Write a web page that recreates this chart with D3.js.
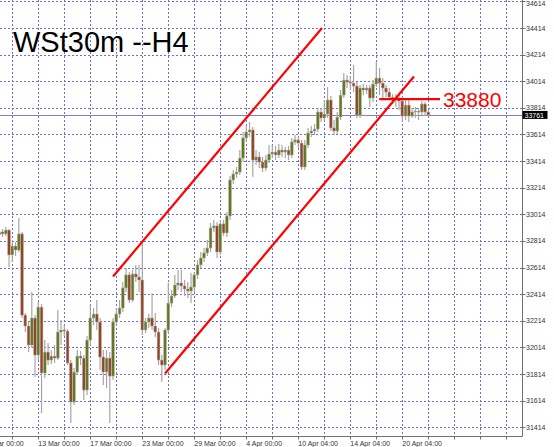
<!DOCTYPE html>
<html><head><meta charset="utf-8">
<script src="https://cdn.jsdelivr.net/npm/d3@7"></script>
<style>html,body{margin:0;padding:0;background:#fff;overflow:hidden}svg{display:block}</style>
</head><body>
<svg id="chart" width="554" height="447"></svg>
<script>
const opens = [32859,32882,32867,32896,32709,32776,32746,32867,32257,32175,32032,32235,31957,32317,31822,31979,31919,31949,31934,32130,32145,32137,31897,31604,31829,31949,31934,31694,32069,32235,32265,32205,31942,31829,31934,31799,32205,32265,32310,32461,32559,32370,32566,32543,32521,32145,32205,32235,32175,32130,31919,31882,32145,32347,32401,32483,32498,32476,32453,32438,32468,32559,32634,32686,32724,32761,32912,32927,32731,32942,32874,33002,33272,33317,33332,33437,33588,33633,33648,33422,33445,33407,33362,33422,33467,33482,33460,33497,33482,33497,33460,33558,33573,33550,33370,33535,33625,33640,33655,33783,33738,33768,33873,33663,33640,33745,33910,34023,34008,34000,33978,33760,33963,33948,33963,33888,33993,34038,34000,33963,33933,33895,33880,33888,33865,33753,33835,33753,33783,33790,33783,33843,33783];
const highs = [32904,32904,32919,32904,32821,32806,32986,32882,32272,32205,32431,32257,32355,32340,32069,32047,31994,32032,32295,32220,32182,32152,31919,31859,31994,31987,31957,32100,32332,32310,32370,32235,31994,31994,31979,32235,32310,32370,32506,32611,32581,32596,32634,32634,32799,32235,32265,32423,32272,32160,31957,32160,32498,32446,32559,32596,32596,32521,32506,32574,32581,32671,32731,32761,32821,32949,32972,32957,32972,32972,33032,33302,33347,33370,33497,33633,33685,33708,33670,33497,33482,33445,33460,33535,33535,33527,33542,33535,33520,33527,33588,33610,33595,33573,33573,33663,33678,33693,33813,33813,33873,33970,33903,33723,33783,33948,34076,34061,34053,34136,34008,33986,33993,33986,33986,34023,34158,34113,34038,33986,33963,33918,33918,33910,33895,33873,33888,33813,33820,33813,33865,33858,33798];
const lows = [32836,32844,32851,32619,32656,32701,32731,32235,32130,31979,32009,31791,31919,31521,31784,31882,31889,31897,31919,32032,32100,31882,31446,31581,31807,31882,31619,31656,32032,32182,32145,31844,31731,31709,31446,31769,32175,32235,32280,32431,32347,32355,32506,32431,32107,32122,32160,32145,32092,31882,31754,31844,32122,32317,32386,32446,32431,32401,32386,32347,32431,32528,32611,32656,32701,32731,32882,32686,32709,32851,32844,32972,33242,33287,33310,33407,33558,33595,33295,33385,33362,33332,33340,33400,33437,33422,33437,33445,33437,33422,33437,33535,33512,33347,33347,33512,33595,33610,33633,33708,33715,33738,33640,33610,33618,33723,33888,33963,33948,33933,33738,33738,33910,33918,33820,33858,33970,33910,33888,33895,33873,33843,33820,33798,33708,33723,33708,33738,33738,33723,33760,33753,33753];
const closes = [32882,32867,32896,32709,32776,32746,32867,32257,32175,32032,32235,31957,32317,31822,31979,31919,31949,31934,32130,32145,32137,31897,31604,31829,31949,31934,31694,32069,32235,32265,32205,31942,31829,31934,31799,32205,32265,32310,32461,32559,32370,32566,32543,32521,32145,32205,32235,32175,32130,31919,31882,32145,32347,32401,32483,32498,32476,32453,32438,32468,32559,32634,32686,32724,32761,32912,32927,32731,32942,32874,33002,33272,33317,33332,33437,33588,33633,33648,33422,33445,33407,33362,33422,33467,33482,33460,33497,33482,33497,33460,33558,33573,33550,33370,33535,33625,33640,33655,33783,33738,33768,33873,33663,33640,33745,33910,34023,34008,34000,33978,33760,33963,33948,33963,33888,33993,34038,34000,33963,33933,33895,33880,33888,33865,33753,33835,33753,33783,33790,33783,33843,33783,33761];

const priceTicks = [31414,31614,31814,32014,32214,32414,32614,32814,33014,33214,33414,33614,33814,34014,34214,34414,34614];
const timeTickBars = [-4,12,28,44,60,76,92,108,124];
const timeTickLabels = ["9 Mar 00:00","13 Mar 00:00","17 Mar 00:00","23 Mar 00:00","29 Mar 00:00","4 Apr 00:00","10 Apr 04:00","14 Apr 04:00","20 Apr 04:00"];
const channelUpper = [{bar:35, price:32547},{bar:99.3, price:34414}];
const channelLower = [{bar:51, price:31818},{bar:127.6, price:34050}];
const levelLine = [{bar:116.9, price:33880},{bar:135.6, price:33880}];
const levelLabel = "33880";
const currentPrice = 33761;
const title = "WSt30m --H4";

const svg = d3.select("#chart");
const plotRight = 522.5, plotBottom = 436.5;
const n = closes.length;
const x = d3.scaleLinear().domain([0, n - 1]).range([-0.7, -0.7 + 3.25 * (n - 1)]);
const y = d3.scaleLinear().domain([31414, 34614]).range([427.3, 1.4]);

const gridColor = "#7070cc";
const grid = svg.append("g");
grid.selectAll("line.h").data(priceTicks).join("line")
  .attr("x1", 0).attr("x2", plotRight)
  .attr("y1", d => Math.round(y(d)) + 0.5).attr("y2", d => Math.round(y(d)) + 0.5)
  .attr("stroke", gridColor).attr("stroke-width", 1).attr("stroke-dasharray", "2,2");
const vBars = d3.range(-4, 160, 8).filter(b => x(b) > 0 && x(b) < plotRight - 5);
grid.selectAll("line.v").data(vBars).join("line")
  .attr("x1", d => Math.round(x(d)) + 0.5).attr("x2", d => Math.round(x(d)) + 0.5)
  .attr("y1", 0).attr("y2", plotBottom)
  .attr("stroke", gridColor).attr("stroke-width", 1).attr("stroke-dasharray", "2,2");

svg.append("text").attr("x", 13).attr("y", 52)
  .attr("font-family", "Liberation Sans, Arial, sans-serif").attr("font-size", 29)
  .attr("fill", "#000").text(title);

svg.append("line").attr("x1", 0).attr("x2", plotRight)
  .attr("y1", Math.round(y(currentPrice)) + 0.5).attr("y2", Math.round(y(currentPrice)) + 0.5)
  .attr("stroke", "#8080c0").attr("stroke-width", 1);

const idx = d3.range(n);
const cg = svg.append("g");
cg.selectAll("line.wick").data(idx).join("line")
  .attr("x1", i => x(i)).attr("x2", i => x(i))
  .attr("y1", i => y(highs[i])).attr("y2", i => y(lows[i]))
  .attr("stroke", "#a6a6a6").attr("stroke-width", 1.2);
cg.selectAll("rect.body").data(idx).join("rect")
  .attr("x", i => x(i) - 1.4).attr("width", 2.8)
  .attr("y", i => y(Math.max(opens[i], closes[i])))
  .attr("height", i => Math.max(1, Math.abs(y(opens[i]) - y(closes[i]))))
  .attr("fill", i => closes[i] >= opens[i] ? "#66781f" : "#944526")
  .attr("stroke", "#b4b4b4").attr("stroke-width", 0.5);

const line = d3.line().x(d => x(d.bar)).y(d => y(d.price));
[channelUpper, channelLower, levelLine].forEach(seg => {
  svg.append("path").attr("d", line(seg)).attr("fill", "none")
    .attr("stroke", "#ff0000").attr("stroke-width", 2.2);
});
svg.append("text").attr("x", 443).attr("y", 107)
  .attr("font-family", "Liberation Sans, Arial, sans-serif").attr("font-size", 21)
  .attr("fill", "#ff0000").text(levelLabel);

svg.append("line").attr("x1", plotRight).attr("x2", plotRight).attr("y1", 0).attr("y2", plotBottom)
  .attr("stroke", "#707070").attr("stroke-width", 1);
svg.append("line").attr("x1", 0).attr("x2", plotRight).attr("y1", plotBottom).attr("y2", plotBottom)
  .attr("stroke", "#707070").attr("stroke-width", 1);

const ra = svg.append("g");
ra.selectAll("line").data(priceTicks).join("line")
  .attr("x1", plotRight).attr("x2", plotRight + 3)
  .attr("y1", d => Math.round(y(d)) + 0.5).attr("y2", d => Math.round(y(d)) + 0.5)
  .attr("stroke", "#707070");
ra.selectAll("text").data(priceTicks).join("text")
  .attr("x", 526).attr("y", d => Math.max(6, y(d) + 2.5))
  .attr("font-family", "Liberation Sans, Arial, sans-serif").attr("font-size", 7)
  .attr("fill", "#333").text(d => d);

const cpY = y(currentPrice);
svg.append("rect").attr("x", 522.5).attr("y", cpY - 4).attr("width", 25).attr("height", 8).attr("fill", "#000");
svg.append("text").attr("x", 524.5).attr("y", cpY + 2.6)
  .attr("font-family", "Liberation Sans, Arial, sans-serif").attr("font-size", 7)
  .attr("fill", "#fff").text(currentPrice);

const ba = svg.append("g");
ba.selectAll("line").data(vBars).join("line")
  .attr("x1", d => Math.round(x(d)) + 0.5).attr("x2", d => Math.round(x(d)) + 0.5)
  .attr("y1", plotBottom).attr("y2", plotBottom + 3).attr("stroke", "#707070");
ba.selectAll("text").data(timeTickBars).join("text")
  .attr("x", d => x(d)).attr("y", 446)
  .attr("font-family", "Liberation Sans, Arial, sans-serif").attr("font-size", 7)
  .attr("fill", "#333").text((d, i) => timeTickLabels[i]);
</script>
</body></html>
